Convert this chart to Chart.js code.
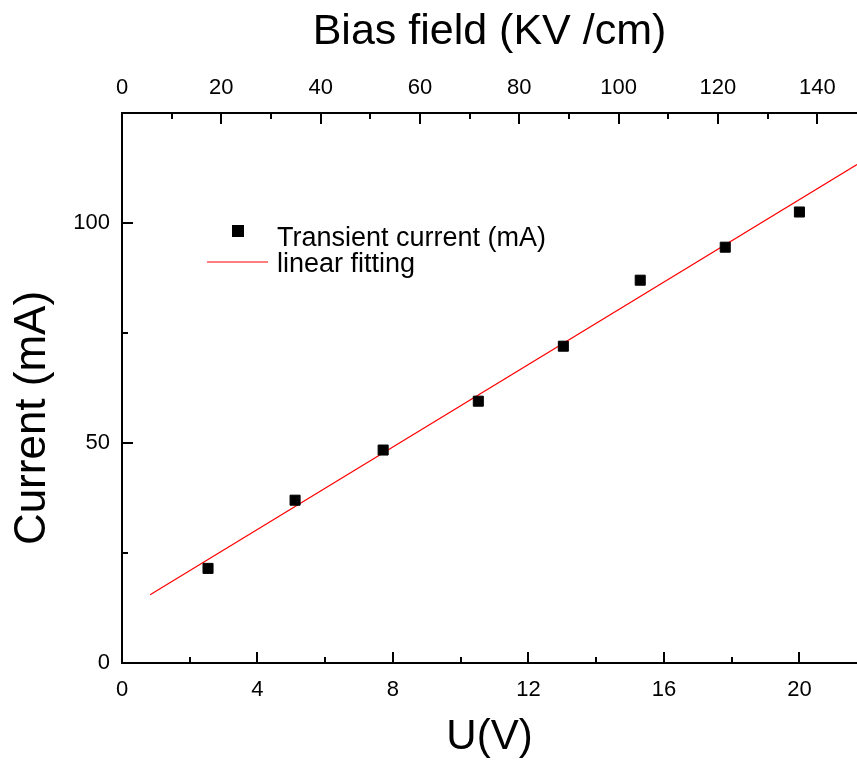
<!DOCTYPE html>
<html>
<head>
<meta charset="utf-8">
<script src="https://cdn.jsdelivr.net/npm/chart.js@4.4.0/dist/chart.umd.min.js"></script>
<style>
  html, body { margin: 0; padding: 0; background: #fff; }
  #wrap { width: 857px; height: 760px; }
</style>
</head>
<body>
<div id="wrap"><canvas id="c" width="857" height="760"></canvas></div>
<script>
// Measured transient current versus applied voltage
const voltage = [2.54, 5.11, 7.71, 10.52, 13.03, 15.30, 17.81, 20.00];
const current = [21.5, 37.0, 48.4, 59.5, 72.0, 87.0, 94.5, 102.5];

// Linear fit, start and end points
const fitVoltage = [0.83, 21.7];
const fitCurrent = [15.5, 113.3];

// Axis ticks (major labelled, minor unlabelled)
const voltageTicks = [0, 4, 8, 12, 16, 20];
const voltageMinor = [2, 6, 10, 14, 18];
const fieldTicks = [0, 20, 40, 60, 80, 100, 120, 140];
const fieldMinor = [10, 30, 50, 70, 90, 110, 130];
const currentTicks = [0, 50, 100];
const currentMinor = [25, 75];

const FONT = 'Liberation Sans, Arial, Helvetica, sans-serif';
const Y_TITLE = 'Current (mA)';

// Inward tick marks on the left, bottom and top axes
const tickMarks = {
  id: 'tickMarks',
  afterDraw(chart) {
    const { ctx, chartArea: a, scales } = chart;
    ctx.save();
    ctx.strokeStyle = '#000';
    ctx.lineWidth = 2;
    const mark = (scale, vals, len) => {
      vals.forEach(v => {
        const p = Math.round(scale.getPixelForValue(v));
        ctx.beginPath();
        if (scale.axis === 'x') {
          const top = scale.position === 'top';
          const y0 = top ? a.top : a.bottom;
          ctx.moveTo(p, y0);
          ctx.lineTo(p, y0 + (top ? len : -len));
        } else {
          ctx.moveTo(a.left, p);
          ctx.lineTo(a.left + len, p);
        }
        ctx.stroke();
      });
    };
    mark(scales.x, voltageTicks, 11);
    mark(scales.x, voltageMinor, 6);
    mark(scales.x2, fieldTicks, 11);
    mark(scales.x2, fieldMinor, 6);
    mark(scales.y, currentTicks, 11);
    mark(scales.y, currentMinor, 6);
    ctx.restore();
  }
};

// Vertical axis title, set a little below the middle of the axis
const yTitle = {
  id: 'yTitle',
  afterDraw(chart) {
    const { ctx, chartArea: a } = chart;
    ctx.save();
    ctx.translate(33, (a.top + a.bottom) / 2 + 30);
    ctx.rotate(-Math.PI / 2);
    ctx.font = '44px ' + FONT;
    ctx.fillStyle = '#000';
    ctx.textAlign = 'center';
    ctx.textBaseline = 'middle';
    ctx.fillText(Y_TITLE, 0, 0);
    ctx.restore();
  }
};

// Legend drawn inside the plot area
const innerLegend = {
  id: 'innerLegend',
  afterDraw(chart) {
    const { ctx, chartArea: a } = chart;
    const [pts, fit] = chart.data.datasets;
    const x0 = a.left, y0 = a.top;
    ctx.save();
    ctx.font = '27px ' + FONT;
    ctx.textBaseline = 'alphabetic';
    ctx.textAlign = 'left';
    // square marker entry
    ctx.fillStyle = pts.backgroundColor;
    ctx.fillRect(x0 + 110, y0 + 112, 12, 12);
    ctx.fillStyle = '#000';
    ctx.fillText(pts.label, x0 + 155, y0 + 133);
    // line entry
    ctx.strokeStyle = fit.borderColor;
    ctx.lineWidth = fit.borderWidth;
    ctx.beginPath();
    ctx.moveTo(x0 + 85, y0 + 149);
    ctx.lineTo(x0 + 146, y0 + 149);
    ctx.stroke();
    ctx.fillText(fit.label, x0 + 155, y0 + 159);
    ctx.restore();
  }
};

const tickFont = { family: FONT, size: 22 };
const axisBorder = { display: true, color: '#000', width: 2 };

new Chart(document.getElementById('c').getContext('2d'), {
  type: 'scatter',
  data: {
    datasets: [
      {
        label: 'Transient current (mA)',
        data: voltage.map((v, i) => ({ x: v, y: current[i] })),
        pointStyle: 'rect',
        pointRadius: 7.1,
        backgroundColor: '#000',
        borderColor: '#000',
        borderWidth: 1,
        xAxisID: 'x',
        yAxisID: 'y',
        order: 0
      },
      {
        label: 'linear fitting',
        type: 'line',
        data: fitVoltage.map((v, i) => ({ x: v, y: fitCurrent[i] })),
        borderColor: '#ff0000',
        borderWidth: 1.2,
        pointRadius: 0,
        fill: false,
        xAxisID: 'x',
        yAxisID: 'y',
        order: 1
      }
    ]
  },
  options: {
    responsive: false,
    animation: false,
    devicePixelRatio: 1,
    layout: { padding: 0, autoPadding: false },
    plugins: { legend: { display: false }, tooltip: { enabled: false } },
    scales: {
      x: {
        type: 'linear', position: 'bottom', min: 0, max: 21.7,
        afterBuildTicks: s => { s.ticks = voltageTicks.map(v => ({ value: v })); },
        afterFit: s => { s.height = 97; s.paddingLeft = 0; s.paddingRight = 0; },
        grid: { display: false, drawTicks: false },
        border: axisBorder,
        ticks: { color: '#000', font: tickFont, padding: 14, maxRotation: 0, autoSkip: false },
        title: { display: true, text: 'U(V)', color: '#000', font: { family: FONT, size: 42, lineHeight: 1 }, padding: { top: 0, bottom: 2 } }
      },
      x2: {
        type: 'linear', position: 'top', min: 0, max: 148,
        afterBuildTicks: s => { s.ticks = fieldTicks.map(v => ({ value: v })); },
        afterFit: s => { s.height = 113; s.paddingLeft = 0; s.paddingRight = 0; },
        grid: { display: false, drawTicks: false },
        border: axisBorder,
        ticks: { color: '#000', font: tickFont, padding: 12, maxRotation: 0, autoSkip: false },
        title: { display: true, text: 'Bias field (KV /cm)', color: '#000', font: { family: FONT, size: 43, lineHeight: 1 }, padding: { top: 11, bottom: 0 } }
      },
      y: {
        type: 'linear', position: 'left', min: 0, max: 125,
        afterBuildTicks: s => { s.ticks = currentTicks.map(v => ({ value: v })); },
        afterFit: s => { s.width = 122; s.paddingTop = 0; s.paddingBottom = 0; },
        grid: { display: false, drawTicks: false },
        border: axisBorder,
        ticks: { color: '#000', font: tickFont, padding: 12, autoSkip: false },
        title: { display: false }
      }
    }
  },
  plugins: [tickMarks, innerLegend, yTitle]
});
</script>
</body>
</html>
